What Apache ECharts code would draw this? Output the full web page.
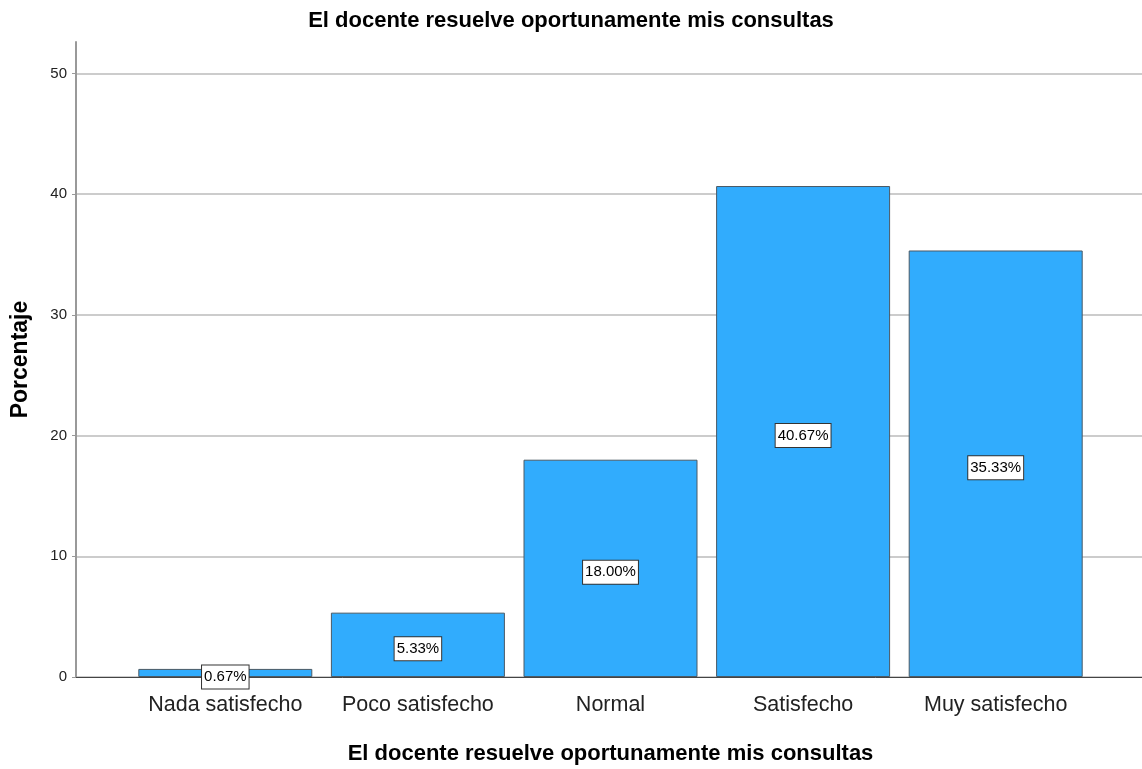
<!DOCTYPE html>
<html>
<head>
<meta charset="utf-8">
<script src="https://cdn.jsdelivr.net/npm/echarts@6/dist/echarts.min.js"></script>
<style>
  html, body { margin: 0; padding: 0; background: #fff; }
  #chart { width: 1142px; height: 769px; }
</style>
</head>
<body>
<div id="chart"></div>
<script>
const categories = ['Nada satisfecho', 'Poco satisfecho', 'Normal', 'Satisfecho', 'Muy satisfecho'];
const percentages = [0.67, 5.33, 18.00, 40.67, 35.33];
const yTicks = { min: 0, max: 52.6, interval: 10 };

const chart = echarts.init(document.getElementById('chart'));
const font = 'Liberation Sans, Arial, sans-serif';

chart.setOption({
  animation: false,
  title: {
    text: 'El docente resuelve oportunamente mis consultas',
    left: 'center',
    top: 5,
    textStyle: { fontFamily: font, fontSize: 22, fontWeight: 'bold', color: '#000' }
  },
  grid: [
    { left: 76, right: 0, top: 42, bottom: 92, outerBoundsMode: 'none', containLabel: false },
    { left: 129, right: 50, top: 42, bottom: 92, outerBoundsMode: 'none', containLabel: false }
  ],
  xAxis: [
    {
      gridIndex: 0,
      type: 'value',
      min: 0,
      max: 1,
      axisLine: { show: true, onZero: false, lineStyle: { color: '#444', width: 1 } },
      axisTick: { show: false },
      axisLabel: { show: false },
      splitLine: { show: false }
    },
    {
      gridIndex: 1,
      type: 'category',
      data: categories,
      axisLine: { show: false },
      axisTick: { show: false },
      axisLabel: { interval: 0, fontFamily: font, fontSize: 21.5, color: '#222', margin: 17 },
      name: 'El docente resuelve oportunamente mis consultas',
      nameLocation: 'middle',
      nameGap: 66,
      nameTextStyle: { fontFamily: font, fontSize: 22, fontWeight: 'bold', color: '#000' }
    }
  ],
  yAxis: [
    {
      gridIndex: 0,
      type: 'value',
      min: yTicks.min,
      max: yTicks.max,
      interval: yTicks.interval,
      name: 'Porcentaje',
      nameLocation: 'middle',
      nameGap: 44,
      nameTextStyle: { fontFamily: font, fontSize: 23, fontWeight: 'bold', color: '#000' },
      axisLine: { show: true, lineStyle: { color: '#999', width: 2 } },
      axisTick: { show: true, length: 4, lineStyle: { color: '#999' } },
      axisLabel: { fontFamily: font, fontSize: 15, color: '#222', margin: 9, showMaxLabel: false },
      splitLine: { show: true, showMaxLine: false, lineStyle: { color: '#ccc', width: 2 } }
    },
    {
      gridIndex: 1,
      type: 'value',
      min: yTicks.min,
      max: yTicks.max,
      show: false,
      splitLine: { show: false }
    }
  ],
  series: [{
    type: 'bar',
    xAxisIndex: 1,
    yAxisIndex: 1,
    data: percentages,
    barWidth: 174,
    itemStyle: { color: '#31acfd', borderColor: '#4a5a66', borderWidth: 1 },
    label: {
      show: true,
      position: 'inside',
      offset: [0, 4],
      formatter: p => p.value.toFixed(2) + '%',
      fontFamily: font,
      fontSize: 15,
      color: '#000',
      backgroundColor: '#fff',
      borderColor: '#333',
      borderWidth: 1,
      padding: [5, 2, 3, 2]
    }
  }]
});
</script>
</body>
</html>
